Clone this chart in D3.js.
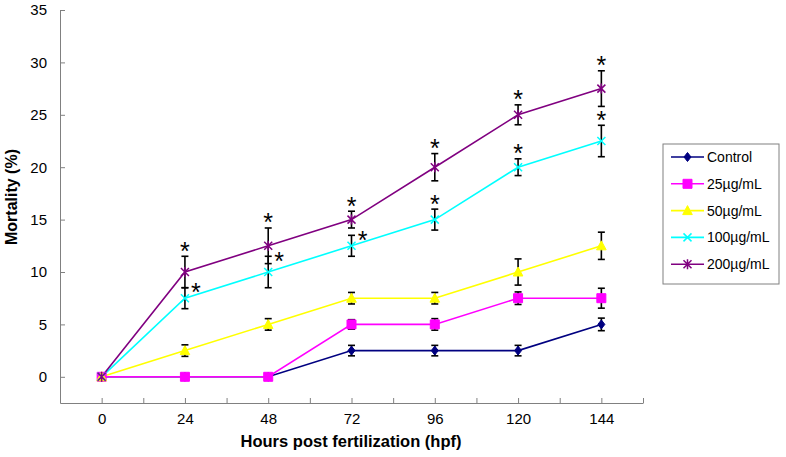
<!DOCTYPE html>
<html>
<head>
<meta charset="utf-8">
<script src="https://cdn.jsdelivr.net/npm/d3@7"></script>
<style>
  body { margin: 0; background: #fff; }
  svg { font-family: Arial, "Liberation Sans", sans-serif; }
</style>
</head>
<body>
<svg width="786" height="457"></svg>
<script>
// hours post fertilization
const hours = [0, 24, 48, 72, 96, 120, 144];
const xTicks = [-12, 0, 12, 24, 36, 48, 60, 72, 84, 96, 108, 120, 132, 144, 156];
const yTicks = [0, 5, 10, 15, 20, 25, 30, 35];

const seriesNames = ["Control", "25µg/mL", "50µg/mL", "100µg/mL", "200µg/mL"];

// mortality (%) and error
const control = [0, 0, 0, 2.5, 2.5, 2.5, 5];
const controlErr = [0, 0, 0, 0.5, 0.5, 0.5, 0.6];
const dose25 = [0, 0, 0, 5, 5, 7.5, 7.5];
const dose25Err = [0, 0, 0, 0.45, 0.55, 0.6, 0.95];
const dose50 = [0, 2.5, 5, 7.5, 7.5, 10, 12.5];
const dose50Err = [0, 0.55, 0.55, 0.55, 0.55, 1.25, 1.3];
const dose100 = [0, 7.5, 10, 12.5, 15, 20, 22.5];
const dose100Err = [0, 1.0, 1.5, 1.0, 1.0, 0.8, 1.5];
const dose200 = [0, 10, 12.5, 15, 20, 25, 27.5];
const dose200Err = [0, 1.5, 1.7, 0.8, 1.3, 0.95, 1.7];

// significance marks ("" = none)
const sig100 = ["", "right", "right", "right", "top", "top", "top"];
const sig200 = ["", "top", "top", "top", "top", "top", "top"];

const colors = ["#000080", "#ff00ff", "#ffff00", "#00ffff", "#800080"];
const shapes = ["diamond", "square", "triangle", "x", "star"];

const series = [
  { values: control, err: controlErr, sig: null },
  { values: dose25, err: dose25Err, sig: null },
  { values: dose50, err: dose50Err, sig: null },
  { values: dose100, err: dose100Err, sig: sig100 },
  { values: dose200, err: dose200Err, sig: sig200 },
].map((s, i) => ({ ...s, name: seriesNames[i], color: colors[i], shape: shapes[i] }));

const svg = d3.select("svg");

const x = d3.scaleLinear().domain([-12, 156]).range([60, 643]);
const y = d3.scaleLinear().domain([-2.5, 35]).range([403, 10]);

// axes
const xAxis = svg
  .append("g")
  .attr("transform", `translate(0,${y(-2.5)})`)
  .call(
    d3
      .axisBottom(x)
      .tickValues(xTicks)
      .tickFormat((d) => (hours.includes(d) && d % 24 == 0 ? d : ""))
      .tickSizeInner(-5)
      .tickSizeOuter(0)
      .tickPadding(10)
  );

const yAxis = svg
  .append("g")
  .attr("transform", `translate(${x(-12)},0)`)
  .call(d3.axisLeft(y).tickValues(yTicks).tickSizeInner(-5).tickSizeOuter(0).tickPadding(13));

[xAxis, yAxis].forEach((g) => {
  g.select(".domain").attr("stroke", "#808080");
  g.selectAll(".tick line").attr("stroke", "#808080");
  g.selectAll(".tick text").attr("font-size", 15).attr("fill", "#000").attr("font-family", "Arial, 'Liberation Sans', sans-serif");
});

svg
  .append("text")
  .attr("x", 351)
  .attr("y", 447)
  .attr("text-anchor", "middle")
  .attr("font-size", 16.5)
  .attr("font-weight", "bold")
  .text("Hours post fertilization (hpf)");

svg
  .append("text")
  .attr("transform", "translate(17,197) rotate(-90)")
  .attr("text-anchor", "middle")
  .attr("font-size", 16)
  .attr("font-weight", "bold")
  .text("Mortality (%)");

function markerPath(shape) {
  if (shape == "diamond") return "M0,-4.5L3.5,0L0,4.5L-3.5,0Z";
  if (shape == "square") return "M-4.5,-4.5H4.5V4.5H-4.5Z";
  if (shape == "triangle") return "M0,-5L4.8,4L-4.8,4Z";
  if (shape == "x") return "M-4,-4L4,4M4,-4L-4,4";
  return "M-4,-4L4,4M4,-4L-4,4M0,-5V5";
}

function drawMarker(g, s) {
  const filled = s.shape != "x" && s.shape != "star";
  g.append("path")
    .attr("d", markerPath(s.shape))
    .attr("fill", filled ? s.color : "none")
    .attr("stroke", s.color)
    .attr("stroke-width", filled ? 1 : 1.5);
}

const line = d3
  .line()
  .x((d, i) => x(hours[i]))
  .y((d) => y(d));

// lines
series.forEach((s) => {
  svg
    .append("path")
    .datum(s.values)
    .attr("d", line)
    .attr("fill", "none")
    .attr("stroke", s.color)
    .attr("stroke-width", 1.6);
});

// error bars
series.forEach((s) => {
  const g = svg.append("g").attr("stroke", "#000").attr("stroke-width", 1.6);
  s.values.forEach((v, i) => {
    if (!s.err[i]) return;
    const cx = x(hours[i]);
    const top = y(v + s.err[i]);
    const bot = y(v - s.err[i]);
    g.append("line").attr("x1", cx).attr("x2", cx).attr("y1", top).attr("y2", bot);
    g.append("line").attr("x1", cx - 3.5).attr("x2", cx + 3.5).attr("y1", top).attr("y2", top);
    g.append("line").attr("x1", cx - 3.5).attr("x2", cx + 3.5).attr("y1", bot).attr("y2", bot);
  });
});

// markers
series.forEach((s) => {
  s.values.forEach((v, i) => {
    const g = svg.append("g").attr("transform", `translate(${x(hours[i])},${y(v)})`);
    drawMarker(g, s);
  });
});

// significance asterisks
series.forEach((s) => {
  if (!s.sig) return;
  s.values.forEach((v, i) => {
    const pos = s.sig[i];
    if (!pos) return;
    const top = y(v + s.err[i]);
    const cx = pos == "right" ? x(hours[i]) + 11 : x(hours[i]);
    const cy = pos == "right" ? top - 1 : top - 11;
    svg
      .append("text")
      .attr("x", cx)
      .attr("y", cy + 14.5)
      .attr("text-anchor", "middle")
      .attr("font-size", 25)
      .text("*");
  });
});

// legend
const legend = svg.append("g").attr("transform", "translate(663,144)");
legend
  .append("rect")
  .attr("width", 116)
  .attr("height", 140)
  .attr("fill", "#fff")
  .attr("stroke", "#808080");

series.forEach((s, i) => {
  const row = legend.append("g").attr("transform", `translate(0,${13 + i * 26.8})`);
  row.append("line").attr("x1", 8).attr("x2", 41).attr("stroke", s.color).attr("stroke-width", 1.6);
  drawMarker(row.append("g").attr("transform", "translate(24.5,0)"), s);
  row
    .append("text")
    .attr("x", 44)
    .attr("y", 5)
    .attr("font-size", 14)
    .text(s.name);
});
</script>
</body>
</html>
